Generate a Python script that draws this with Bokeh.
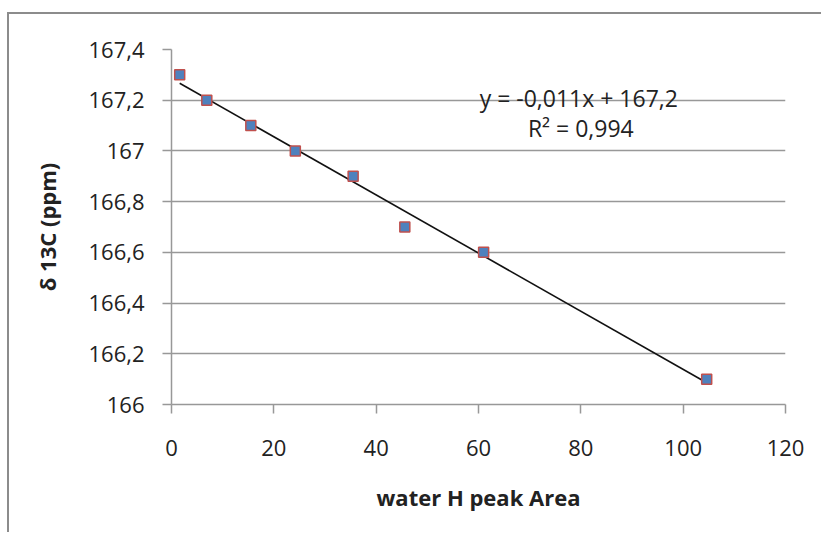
import numpy as np
from bokeh.plotting import figure
from bokeh.models import Label, FixedTicker, ColumnDataSource
from bokeh.embed import file_html
from bokeh.resources import INLINE

# data
water_area = [1.6, 6.9, 15.5, 24.2, 35.5, 45.6, 61.0, 104.6]
delta_13c = [167.3, 167.2, 167.1, 167.0, 166.9, 166.7, 166.6, 166.1]

y_ticks = [166.0, 166.2, 166.4, 166.6, 166.8, 167.0, 167.2, 167.4]
y_tick_labels = ["166", "166,2", "166,4", "166,6", "166,8", "167", "167,2", "167,4"]
x_ticks = [0, 20, 40, 60, 80, 100, 120]

x_title = "water H peak Area"
y_title = "δ 13C (ppm)"
eq_line1 = "y = -0,011x + 167,2"
eq_line2 = "R² = 0,994"

FONT = "Open Sans"
GRAY = "#989898"
TXT = "#222222"

p = figure(width=814, height=520, x_range=(0, 120), y_range=(166, 167.4),
           output_backend="svg", toolbar_location=None,
           min_border_left=162, min_border_right=38, min_border_top=35, min_border_bottom=130)
p.styles = {"margin-top": "12px", "margin-left": "7px",
            "border-top": "2px solid #8c8c8c", "border-left": "2px solid #8c8c8c"}
p.outline_line_color = None
p.background_fill_color = "white"

# axes
p.xaxis.ticker = FixedTicker(ticks=x_ticks)
p.yaxis.ticker = FixedTicker(ticks=y_ticks)
p.yaxis.major_label_overrides = {t: l for t, l in zip(y_ticks, y_tick_labels)}
for ax in (p.xaxis[0], p.yaxis[0]):
    ax.axis_line_color = GRAY
    ax.axis_line_width = 1.5
    ax.major_tick_line_color = GRAY
    ax.major_tick_line_width = 1.5
    ax.major_tick_out = 9
    ax.major_tick_in = 0
    ax.minor_tick_line_color = None
    ax.major_label_text_font = FONT
    ax.major_label_text_font_size = "22px"
    ax.major_label_text_color = TXT
    ax.axis_label_text_font = FONT
    ax.axis_label_text_font_style = "bold"
    ax.axis_label_text_font_size = "22px"
    ax.axis_label_text_color = TXT
p.xaxis.major_label_standoff = 26
p.yaxis.major_label_standoff = 18
p.xaxis.axis_label = x_title
p.xaxis.axis_label_standoff = 23
p.yaxis.axis_label = y_title
p.yaxis.axis_label_standoff = 23

p.xgrid.grid_line_color = None
p.ygrid.grid_line_color = GRAY
p.ygrid.grid_line_width = 1.5

# trend line (least squares fit of the data)
slope, intercept = np.polyfit(water_area, delta_13c, 1)
xs = [min(water_area), max(water_area)]
ys = [slope * v + intercept for v in xs]
p.line(xs, ys, line_color="#111111", line_width=1.6)

src = ColumnDataSource(dict(x=water_area, y=delta_13c))
p.scatter("x", "y", source=src, marker="square", size=10,
          fill_color="#4F81BD", line_color="#C0504D", line_width=1.5)

# trendline equation
p.add_layout(Label(x=79.6, y=167.21, text=eq_line1, text_align="center", text_baseline="middle",
                   text_font=FONT, text_font_size="23px", text_color=TXT))
p.add_layout(Label(x=80.0, y=167.09, text=eq_line2, text_align="center", text_baseline="middle",
                   text_font=FONT, text_font_size="23px", text_color=TXT))

open("out.html", "w").write(file_html(p, INLINE))
